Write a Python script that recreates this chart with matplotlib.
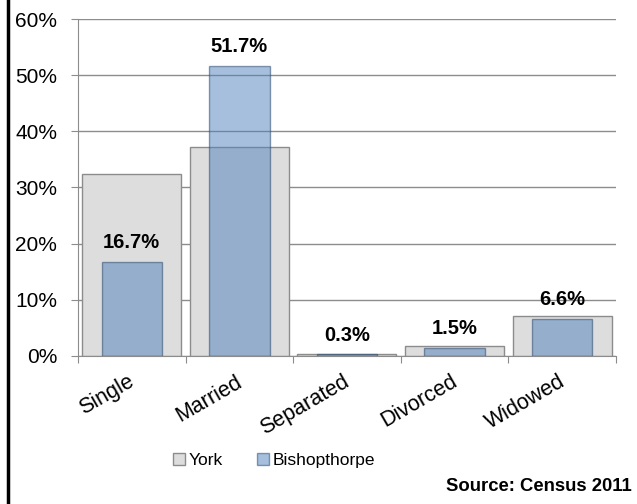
import matplotlib.pyplot as plt
import numpy as np

categories = ["Single", "Married", "Separated", "Divorced", "Widowed"]
york = [32.4, 37.2, 0.4, 1.8, 7.2]
bishopthorpe = [16.7, 51.7, 0.3, 1.5, 6.6]
yticks = [0, 10, 20, 30, 40, 50, 60]

plt.rcParams["font.family"] = ["Liberation Sans", "DejaVu Sans"]

fig = plt.figure(figsize=(6.37, 5.04), dpi=100)
ax = fig.add_axes([0.1224, 0.2937, 0.967 - 0.1224, 0.9623 - 0.2937])

x = np.arange(len(categories))
ax.bar(x, york, width=0.92, color="#dddddd", edgecolor="#8c8c8c",
       linewidth=1, label="York", zorder=2)
ax.bar(x, bishopthorpe, width=0.56, color="#4f81bd", alpha=0.5,
       edgecolor="#1f3f66", linewidth=1, label="Bishopthorpe", zorder=3)

for xi, v in zip(x, bishopthorpe):
    ax.annotate(f"{v}%", (xi, v), xytext=(0, 7), textcoords="offset points",
                ha="center", va="bottom", fontsize=14.5, fontweight="bold")

ax.set_xlim(-0.5, len(categories) - 0.5)
ax.set_ylim(0, 60)
ax.set_yticks(yticks)
ax.set_yticklabels([f"{t}%" for t in yticks], fontsize=15)
ax.yaxis.grid(True, color="#8c8c8c", linewidth=1, zorder=0)
ax.set_axisbelow(True)

# category labels, rotated, right end under the category centre
ax.set_xticks(np.arange(-0.5, len(categories)))
ax.set_xticklabels([])
ax.tick_params(axis="x", length=5, color="#8c8c8c")
for xi, name in zip(x, categories):
    ax.annotate(name, (xi, 0), xycoords=("data", "axes fraction"),
                xytext=(-3, -11), textcoords="offset points",
                rotation=30, rotation_mode="anchor", ha="right", va="top",
                fontsize=15.5)
ax.tick_params(axis="y", length=5, color="#8c8c8c", pad=10)

for s in ["top", "right"]:
    ax.spines[s].set_visible(False)
for s in ["left", "bottom"]:
    ax.spines[s].set_color("#8c8c8c")

fig.legend(loc="center", bbox_to_anchor=(0.43, 0.087), ncol=2,
           frameon=False, fontsize=12.5, handlelength=0.7, handleheight=0.7,
           handletextpad=0.2, columnspacing=2.0)

fig.text(0.992, 0.018, "Source: Census 2011", ha="right", va="bottom",
         fontsize=13.3, fontweight="bold")
fig.add_artist(plt.Line2D([0.0118, 0.0118], [0, 1], color="black",
                          linewidth=2.5, transform=fig.transFigure))

fig.savefig("out.png", dpi=100)
